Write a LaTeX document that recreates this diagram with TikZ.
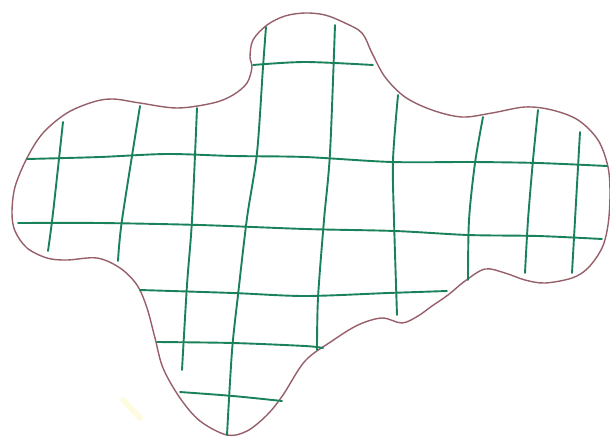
\documentclass[tikz,border=0pt]{standalone}
\definecolor{outl}{RGB}{150,95,105}
\definecolor{grn}{RGB}{25,130,90}
\definecolor{smudge}{RGB}{253,252,225}
\tikzset{
  blob/.style={draw=outl, line width=1.4pt},
  gline/.style={draw=grn, line width=1.9pt, line cap=round},
}
\begin{document}
\begin{tikzpicture}[x=1pt,y=-1pt]
\useasboundingbox (0,0) rectangle (610,437);
% faint smudge
\draw[smudge, line width=6pt, line cap=round] (123,400) -- (140,418);
% outline
\draw[blob] plot[smooth cycle, tension=0.55] coordinates {
 (305,13) (325,15) (345,23) (362,33) (372,53) (385,77) (405,97) (432,110)
 (462,117) (492,113) (525,107) (552,110) (578,120) (598,140) (608,167)
 (610,195) (608,225) (602,248) (588,268) (572,278) (545,283) (525,280)
 (505,273) (485,269) (465,281) (448,295) (432,306) (418,316) (402,323)
 (382,318) (358,325) (332,341) (305,361) (283,395) (267,415) (247,431)
 (227,435) (200,421) (180,398) (163,368) (155,338) (147,308) (137,285)
 (120,268) (97,258) (67,260) (47,258) (27,248) (15,231) (12,213)
 (15,187) (27,158) (43,133) (67,113) (93,102) (113,99) (140,103)
 (177,108) (213,103) (233,95) (247,83) (252,67) (250,57) (253,40)
 (267,25) (285,16)
};
% vertical grid lines
\draw[gline] plot[smooth] coordinates {(63,122) (53,213) (48,251)};
\draw[gline] plot[smooth] coordinates {(140,106) (122,220) (118,261)};
\draw[gline] plot[smooth] coordinates {(197,108) (192,220) (187,285) (182,370)};
\draw[gline] plot[smooth] coordinates {(266,27) (263,67) (257,153) (247,218) (238,295) (232,351) (227,435)};
\draw[gline] plot[smooth] coordinates {(335,25) (330,153) (324,220) (318,298) (317,350)};
\draw[gline] plot[smooth] coordinates {(398,95) (393,160) (394,220) (397,315)};
\draw[gline] plot[smooth] coordinates {(483,117) (475,163) (469,220) (468,280)};
\draw[gline] plot[smooth] coordinates {(538,110) (533,160) (528,220) (525,273)};
\draw[gline] plot[smooth] coordinates {(580,132) (575,220) (572,273)};
% horizontal grid lines
\draw[gline] plot[smooth] coordinates {(253,65) (305,62) (373,65)};
\draw[gline] plot[smooth] coordinates {(27,159) (100,157) (167,154) (233,156) (305,157) (392,162) (472,162) (538,163) (607,166)};
\draw[gline] plot[smooth] coordinates {(18,223) (100,223) (200,225) (305,229) (395,231) (468,235) (538,236) (602,239)};
\draw[gline] plot[smooth] coordinates {(140,290) (233,293) (305,296) (388,293) (447,291)};
\draw[gline] plot[smooth] coordinates {(157,342) (233,343) (305,346) (323,348)};
\draw[gline] plot[smooth] coordinates {(180,392) (233,396) (282,401)};
\end{tikzpicture}
\end{document}
